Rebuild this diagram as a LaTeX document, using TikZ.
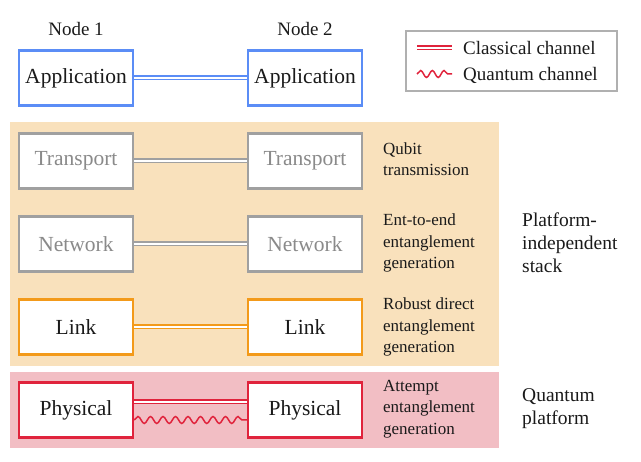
\documentclass[tikz,border=0pt]{standalone}
\usepackage{fontspec}
\setmainfont{Liberation Serif}
\newfontfamily\diagserif{Liberation Serif}
\usetikzlibrary{decorations.pathmorphing}
\definecolor{appblue}{HTML}{5B8DF6}
\definecolor{laygray}{HTML}{A0A0A0}
\definecolor{txtgray}{HTML}{8A8A8A}
\definecolor{linkorange}{HTML}{F39A1A}
\definecolor{physred}{HTML}{E0233C}
\definecolor{bandorange}{HTML}{F9E1BC}
\definecolor{bandpink}{HTML}{F2BEC4}
\definecolor{legendgray}{HTML}{B0B0B0}
\definecolor{ink}{HTML}{1A1A1A}
\begin{document}
\begin{tikzpicture}[x=1pt,y=-1pt,
  layerbox/.style={draw=#1, line width=2.2pt, fill=white, minimum width=114pt, minimum height=55pt, inner sep=0pt, text=ink, font=\diagserif\fontsize{21.5}{24}\selectfont},
  classical/.style={draw=#1, line width=1.5pt, double=white, double distance=2pt},
  quantum/.style={draw=physred, line width=1.5pt, decorate, decoration={snake, segment length=12.5pt, amplitude=3.5pt}},
  desc/.style={anchor=west, align=left, inner sep=0pt, text=ink, font=\diagserif\fontsize{17}{21.3}\selectfont},
  side/.style={anchor=west, align=left, inner sep=0pt, text=ink, font=\diagserif\fontsize{19.5}{23}\selectfont},
  head/.style={inner sep=0pt, text=ink, font=\diagserif\fontsize{19}{22}\selectfont},
  legtext/.style={anchor=west, inner sep=0pt, text=ink, font=\diagserif\fontsize{19}{22}\selectfont}]
\useasboundingbox (0,0) rectangle (641,462);
% bands
\fill[bandorange] (10,122) rectangle (499,366);
\fill[bandpink] (10,372) rectangle (499,448);
% headers
\node[head] (n1) at (76,29) {Node 1};
\node[head] (n2) at (305,29) {Node 2};
% boxes
\node[layerbox=appblue] (a1) at (76,78) {Application};
\node[layerbox=appblue] (a2) at (305,78) {Application};
\node[layerbox=laygray, text=txtgray] (t1) at (76,161) {Transport};
\node[layerbox=laygray, text=txtgray] (t2) at (305,161) {Transport};
\node[layerbox=laygray, text=txtgray] (w1) at (76,244) {Network};
\node[layerbox=laygray, text=txtgray] (w2) at (305,244) {Network};
\node[layerbox=linkorange] (l1) at (76,327) {Link};
\node[layerbox=linkorange] (l2) at (305,327) {Link};
\node[layerbox=physred] (p1) at (76,410) {Physical};
\node[layerbox=physred] (p2) at (305,410) {Physical};
% connectors
\draw[classical=appblue] (a1) -- (a2);
\draw[classical=laygray] (t1) -- (t2);
\draw[classical=laygray] (w1) -- (w2);
\draw[classical=linkorange] (l1) -- (l2);
\draw[classical=physred] ([yshift=8pt]p1.east) -- ([yshift=8pt]p2.west);
\draw[quantum] ([yshift=-10pt]p1.east) -- ([yshift=-10pt]p2.west);
% descriptions
\node[desc] (d1) at (383,159) {Qubit\\transmission};
\node[desc] (d2) at (383,243) {Ent-to-end\\entanglement\\generation};
\node[desc] (d3) at (383,327) {Robust direct\\entanglement\\generation};
\node[desc] (d4) at (383,409) {Attempt\\entanglement\\generation};
\node[side] (s1) at (522,243) {Platform-\\independent\\stack};
\node[side] (s2) at (522,409) {Quantum\\platform};
% legend
\node[draw=legendgray, line width=1.8pt, minimum width=211pt, minimum height=60pt, inner sep=0pt] (legend) at (511.5,61) {};
\coordinate (c1a) at (417,48);
\coordinate (c1b) at (452,48);
\coordinate (q1a) at (417,74);
\coordinate (q1b) at (452,74);
\draw[classical=physred] (c1a) -- (c1b);
\draw[quantum, decoration={snake, segment length=11.7pt, amplitude=3.5pt}] (q1a) -- (q1b);
\node[legtext] (lc) at (463,48) {Classical channel};
\node[legtext] (lq) at (463,75) {Quantum channel};
\end{tikzpicture}
\end{document}
